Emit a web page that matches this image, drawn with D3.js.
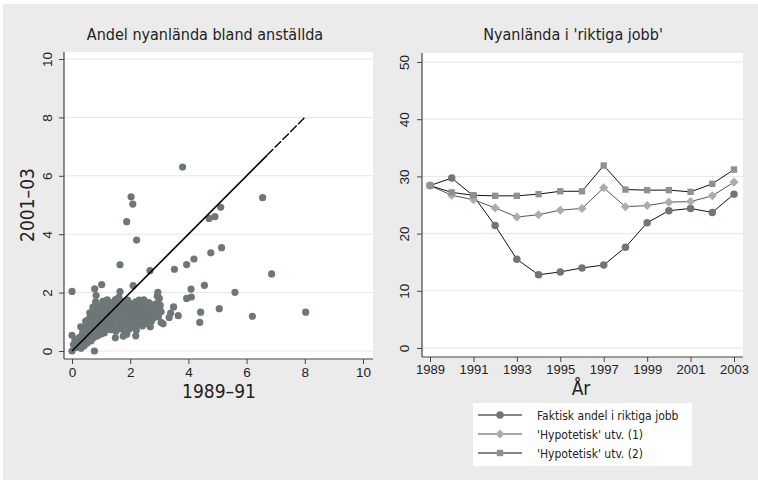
<!DOCTYPE html>
<html><head><meta charset="utf-8">
<script src="https://cdn.jsdelivr.net/npm/d3@7"></script>
<style>
html,body{margin:0;padding:0;background:#fff;}
svg{display:block;font-family:"Liberation Sans Narrow","DejaVu Sans Condensed","Arial Narrow",sans-serif;}
</style></head>
<body>
<svg id="c" width="758" height="480"></svg>
<script>
// ---------- DATA ----------
const scatterTitle = "Andel nyanlända bland anställda";
const scatterXLabel = "1989–91";
const scatterYLabel = "2001–03";
const scatterTicks = [0, 2, 4, 6, 8, 10];
const diagonalEnd = 8;
const municipalities = [
 [0.05,0.22],[0.14,0.12],[0.16,0.33],[0.24,0.21],[0.26,0.47],[0.31,0.09],[0.34,0.30],[0.36,0.62],[0.30,0.83],[0.42,0.18],
 [0.45,0.41],[0.40,0.74],[0.47,1.02],[0.44,0.55],[0.52,0.27],[0.55,0.66],[0.50,0.88],[0.58,1.10],[0.56,0.47],[0.61,1.31],
 [0.63,0.78],[0.66,0.35],[0.64,0.58],[0.69,0.97],[0.67,1.18],[0.72,1.50],[0.70,0.69],[0.75,0.46],[0.77,0.87],[0.74,1.27],
 [0.79,1.07],[0.81,1.68],[0.78,0.60],[0.84,0.78],[0.86,1.38],[0.83,1.90],[0.88,0.52],[0.90,0.98],[0.92,1.18],[0.89,1.55],
 [0.95,0.70],[0.97,1.30],[0.99,0.88],[1.01,1.08],[1.03,1.48],[1.00,0.58],[1.06,1.70],[1.08,0.78],[1.10,1.22],[1.12,0.96],
 [1.14,1.40],[1.11,0.62],[1.17,1.58],[1.19,1.10],[1.22,0.85],[1.24,1.30],[1.21,1.75],[1.27,1.02],[1.29,1.50],[1.32,0.73],
 [1.34,1.20],[1.31,1.66],[1.37,0.95],[1.39,1.38],[1.42,1.12],[1.44,1.60],[1.41,0.80],[1.47,1.28],[1.49,1.76],[1.52,1.02],
 [1.54,1.46],[1.51,0.68],[1.57,1.20],[1.59,1.64],[1.62,0.90],[1.64,1.36],[1.61,1.84],[1.67,1.10],[1.69,0.76],[1.72,1.52],
 [1.74,1.24],[1.71,1.70],[1.77,0.98],[1.79,1.40],[1.82,0.66],[1.84,1.16],[1.81,1.60],[1.87,1.32],[1.89,0.88],[1.92,1.50],
 [1.94,1.06],[1.91,1.74],[1.97,0.75],[1.99,1.26],[2.02,1.44],[2.04,0.96],[2.01,1.62],[2.07,1.14],[2.09,1.34],[2.12,0.84],
 [2.14,1.56],[2.11,1.04],[2.17,1.24],[2.19,1.68],[2.22,0.98],[2.24,1.42],[2.21,0.72],[2.27,1.14],[2.29,1.58],[2.32,1.30],
 [2.34,0.92],[2.31,1.74],[2.37,1.10],[2.39,1.48],[2.42,0.86],[2.44,1.24],[2.41,1.62],[2.47,1.04],[2.49,1.36],[2.52,1.16],
 [2.54,0.94],[2.57,1.52],[2.59,1.28],[2.62,1.06],[2.64,1.66],[2.67,1.20],[2.70,1.44],[2.73,1.02],[2.76,1.30],[2.79,1.58],
 [2.82,1.14],[2.85,1.40],[2.88,1.24],[2.91,1.62],[2.94,1.46],[2.97,1.18],[3.00,1.80],[3.03,1.56],[3.06,1.34],[2.93,1.88],
 [3.80,6.30],[2.03,5.28],[2.09,5.03],[1.88,4.43],[2.22,3.80],[6.55,5.25],[4.71,4.54],[4.91,4.60],[5.11,4.92],[5.14,3.54],
 [4.77,3.36],[4.19,3.15],[3.94,2.96],[3.52,2.80],[2.68,2.75],[1.65,2.95],[6.86,2.64],[5.60,2.01],[4.55,2.25],[4.09,2.12],
 [3.94,1.80],[4.10,1.85],[3.49,1.51],[3.65,1.21],[3.34,1.15],[4.42,1.33],[4.39,0.98],[5.06,1.45],[6.20,1.19],[8.03,1.33],
 [0.00,2.04],[0.00,0.54],[0.00,0.00],[0.77,0.00],[1.02,2.27],[0.78,2.13],[2.95,2.01],[2.10,2.24],[1.65,2.03],[2.47,1.75],
 [1.49,0.45],[2.19,0.52],[1.76,0.51],[3.06,0.98],[3.13,0.93],[3.39,1.30],[3.02,1.40],[2.51,1.45],[2.69,0.83],[0.10,0.38],
 [1.88,0.57]
];

const lineTitle = "Nyanlända i 'riktiga jobb'";
const lineXLabel = "År";
const years = [1989,1990,1991,1992,1993,1994,1995,1996,1997,1998,1999,2000,2001,2002,2003];
const yearTicks = [1989,1991,1993,1995,1997,1999,2001,2003];
const pctTicks = [0,10,20,30,40,50];
const faktisk = [28.4,29.7,26.6,21.4,15.5,12.8,13.3,14.0,14.5,17.6,21.9,24.0,24.4,23.7,26.9];
const hypo1   = [28.4,26.7,25.9,24.5,22.9,23.3,24.1,24.4,28.0,24.7,24.9,25.5,25.6,26.6,29.0];
const hypo2   = [28.4,27.2,26.7,26.6,26.6,26.9,27.4,27.4,31.9,27.7,27.6,27.6,27.3,28.7,31.2];
const seriesNames = ["Faktisk andel i riktiga jobb","'Hypotetisk' utv. (1)","'Hypotetisk' utv. (2)"];

// ---------- DRAW ----------
const svg = d3.select("#c");
svg.append("rect").attr("x",3).attr("y",4).attr("width",755).attr("height",476).attr("fill","#EBEBEB");

const axisCol = "#444", textCol = "#222", gridCol = "#E6E6E6";
const dotCol = "#6E7678";

function panel(o){
  svg.append("rect").attr("x",o.left).attr("y",o.top).attr("width",o.right-o.left).attr("height",o.bottom-o.top).attr("fill","#fff");
}

// Left panel
const L = {left:64, right:373, top:52, bottom:359};
panel(L);
const xL = d3.scaleLinear().domain([0,10]).range([72,363]);
const yL = d3.scaleLinear().domain([0,10]).range([351,59]);
const gL = svg.append("g");
gL.selectAll("line.grid").data(scatterTicks).join("line")
  .attr("x1",L.left).attr("x2",L.right).attr("y1",d=>yL(d)).attr("y2",d=>yL(d))
  .attr("stroke",gridCol).attr("stroke-width",1);

gL.append("g").attr("transform",`translate(0,${L.bottom})`)
  .call(d3.axisBottom(xL).tickValues(scatterTicks).tickSize(5).tickPadding(3).tickFormat(d3.format("d")))
  .call(g=>{g.select(".domain").remove(); g.selectAll("line").attr("stroke",axisCol);
    g.selectAll("text").attr("font-size",13.5).attr("fill",textCol).attr("font-family","inherit");});
gL.append("g").attr("transform",`translate(${L.left},0)`)
  .call(d3.axisLeft(yL).tickValues(scatterTicks).tickSize(5).tickFormat(d3.format("d")))
  .call(g=>{g.select(".domain").remove(); g.selectAll("line").attr("stroke",axisCol);
    g.selectAll("text").attr("font-size",13.5).attr("fill",textCol).attr("font-family","inherit")
      .attr("x",null).attr("dy",null).attr("text-anchor","middle")
      .attr("transform","translate(-12,0) rotate(-90)");});
gL.append("line").attr("x1",L.left).attr("x2",L.right).attr("y1",L.bottom).attr("y2",L.bottom).attr("stroke",axisCol).attr("stroke-width",1.2);
gL.append("line").attr("x1",L.left).attr("x2",L.left).attr("y1",L.top).attr("y2",L.bottom).attr("stroke",axisCol).attr("stroke-width",1.2);

gL.selectAll("circle.pt").data(municipalities).join("circle")
  .attr("cx",d=>xL(d[0])).attr("cy",d=>yL(d[1])).attr("r",3.6).attr("fill",dotCol);

const diagSplit = 6.7;
gL.append("line").attr("x1",xL(0)).attr("y1",yL(0)).attr("x2",xL(diagSplit)).attr("y2",yL(diagSplit))
  .attr("stroke","#000").attr("stroke-width",1.6);
gL.append("line").attr("x1",xL(diagSplit)).attr("y1",yL(diagSplit)).attr("x2",xL(diagonalEnd)).attr("y2",yL(diagonalEnd))
  .attr("stroke","#000").attr("stroke-width",1.4).attr("stroke-dasharray","9,2");

svg.append("text").attr("x",205).attr("y",40).attr("text-anchor","middle").attr("font-size",16).attr("fill",textCol).text(scatterTitle);
svg.append("text").attr("x",219).attr("y",398).attr("text-anchor","middle").attr("font-size",19).attr("fill",textCol).text(scatterXLabel);
svg.append("text").attr("transform","translate(34,205) rotate(-90)").attr("text-anchor","middle").attr("font-size",19).attr("fill",textCol).text(scatterYLabel);

// Right panel
const R = {left:422, right:743, top:53, bottom:357};
panel(R);
const xR = d3.scaleLinear().domain([1989,2003]).range([430,734]);
const yR = d3.scaleLinear().domain([0,50]).range([348,62]);
const gR = svg.append("g");
gR.selectAll("line.grid").data(pctTicks).join("line")
  .attr("x1",R.left).attr("x2",R.right).attr("y1",d=>yR(d)).attr("y2",d=>yR(d))
  .attr("stroke",gridCol).attr("stroke-width",1);
gR.append("g").attr("transform",`translate(0,${R.bottom})`)
  .call(d3.axisBottom(xR).tickValues(yearTicks).tickSize(5).tickPadding(3).tickFormat(d3.format("d")))
  .call(g=>{g.select(".domain").remove(); g.selectAll("line").attr("stroke",axisCol);
    g.selectAll("text").attr("font-size",13).attr("fill",textCol).attr("font-family","inherit");});
gR.append("g").attr("transform",`translate(${R.left},0)`)
  .call(d3.axisLeft(yR).tickValues(pctTicks).tickSize(5).tickFormat(d3.format("d")))
  .call(g=>{g.select(".domain").remove(); g.selectAll("line").attr("stroke",axisCol);
    g.selectAll("text").attr("font-size",13.5).attr("fill",textCol).attr("font-family","inherit")
      .attr("x",null).attr("dy",null).attr("text-anchor","middle")
      .attr("transform","translate(-13,0) rotate(-90)");});
gR.append("line").attr("x1",R.left).attr("x2",R.right).attr("y1",R.bottom).attr("y2",R.bottom).attr("stroke",axisCol).attr("stroke-width",1.2);
gR.append("line").attr("x1",R.left).attr("x2",R.left).attr("y1",R.top).attr("y2",R.bottom).attr("stroke",axisCol).attr("stroke-width",1.2);

const line = d3.line().x((d,i)=>xR(years[i])).y(d=>yR(d));
const styles = [
  {data:faktisk, stroke:"#111", fill:"#6E7678", sym:d3.symbolCircle, size:44},
  {data:hypo1, stroke:"#555", fill:"#A9ADAF", sym:d3.symbolDiamond2, size:52},
  {data:hypo2, stroke:"#111", fill:"#8C9294", sym:d3.symbolSquare2, size:52}
];
styles.forEach(s=>{
  gR.append("path").datum(s.data).attr("d",line).attr("fill","none").attr("stroke",s.stroke).attr("stroke-width",1);
});
styles.forEach(s=>{
  gR.selectAll(null).data(s.data).join("path")
    .attr("transform",(d,i)=>`translate(${xR(years[i])},${yR(d)})`)
    .attr("d",d3.symbol().type(s.sym).size(s.size)).attr("fill",s.fill);
});

svg.append("text").attr("x",573).attr("y",40).attr("text-anchor","middle").attr("font-size",16).attr("fill",textCol).text(lineTitle);
svg.append("text").attr("x",581).attr("y",395).attr("text-anchor","middle").attr("font-size",19).attr("fill",textCol).text(lineXLabel);

// Legend
const lg = svg.append("g");
lg.append("rect").attr("x",473).attr("y",403).attr("width",219).attr("height",63).attr("fill","#fff");
const legY = d3.scalePoint().domain(seriesNames).range([415,453]);
seriesNames.forEach((n,i)=>{
  const y = legY(n), s = styles[i];
  lg.append("line").attr("x1",478).attr("x2",522).attr("y1",y).attr("y2",y).attr("stroke",s.stroke).attr("stroke-width",1.2);
  lg.append("path").attr("transform",`translate(500,${y})`).attr("d",d3.symbol().type(s.sym).size(s.size)).attr("fill",s.fill);
  lg.append("text").attr("x",537).attr("y",y+4.5).attr("font-size",12).attr("fill",textCol).text(n);
});
</script>
</body></html>
